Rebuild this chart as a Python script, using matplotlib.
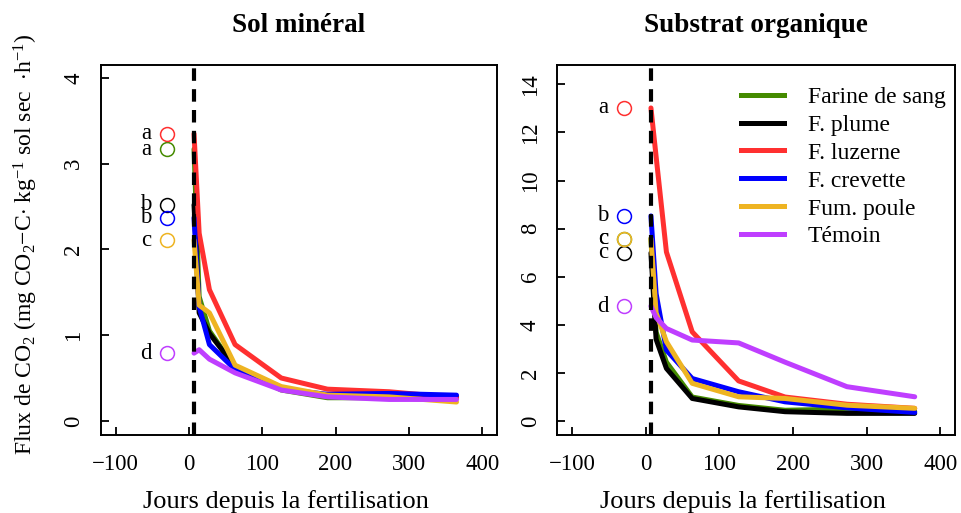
import matplotlib
matplotlib.use("Agg")
import matplotlib.pyplot as plt

plt.rcParams["font.family"] = ["Liberation Serif", "DejaVu Serif"]
plt.rcParams["mathtext.fontset"] = "custom"
plt.rcParams["mathtext.rm"] = "Liberation Serif"
plt.rcParams["mathtext.it"] = "Liberation Serif:italic"

# Sampling days after fertilisation
days = [7, 14, 28, 63, 126, 189, 273, 365]

treatments = ["Farine de sang", "F. plume", "F. luzerne", "F. crevette", "Fum. poule", "Témoin"]
colors = ["#458B00", "#000000", "#FF3030", "#0000FF", "#EEB422", "#BF3EFF"]

# Sol minéral
sol_farine = [3.17, 1.45, 1.05, 0.62, 0.36, 0.27, 0.27, 0.27]
sol_plume = [2.52, 1.26, 1.02, 0.63, 0.37, 0.29, 0.28, 0.28]
sol_luzerne = [3.35, 2.19, 1.53, 0.89, 0.50, 0.37, 0.34, 0.27]
sol_crevette = [2.37, 1.33, 0.89, 0.60, 0.37, 0.31, 0.32, 0.30]
sol_poule = [2.11, 1.35, 1.26, 0.65, 0.40, 0.30, 0.28, 0.22]
sol_temoin = [0.79, 0.83, 0.72, 0.56, 0.36, 0.28, 0.25, 0.25]
sol_letters = ["a", "b", "a", "b", "c", "d"]

# Substrat organique
sub_farine = [7.59, 3.70, 2.45, 1.00, 0.65, 0.45, 0.50, 0.40]
sub_plume = [6.99, 3.40, 2.19, 0.94, 0.59, 0.39, 0.32, 0.32]
sub_luzerne = [13.02, 11.0, 7.03, 3.71, 1.67, 1.00, 0.70, 0.53]
sub_crevette = [8.53, 5.30, 2.95, 1.77, 1.22, 0.80, 0.55, 0.36]
sub_poule = [7.59, 4.50, 3.30, 1.57, 1.01, 0.94, 0.66, 0.53]
sub_temoin = [4.78, 4.30, 3.85, 3.37, 3.25, 2.45, 1.43, 1.01]
sub_letters = ["c", "c", "a", "b", "c", "d"]

sol_series = [sol_farine, sol_plume, sol_luzerne, sol_crevette, sol_poule, sol_temoin]
sub_series = [sub_farine, sub_plume, sub_luzerne, sub_crevette, sub_poule, sub_temoin]

circle_x = -30
fert_day = 7

fig = plt.figure(figsize=(9.61, 5.13), dpi=100)
ax1 = fig.add_axes([0.105, 0.152, 0.412, 0.721])
ax2 = fig.add_axes([0.580, 0.152, 0.414, 0.721])


def draw_panel(ax, series, letters, title, ylim, yticks):
    for vals, col in zip(series, colors):
        ax.plot(days, vals, color=col, lw=3.6, solid_capstyle="round", solid_joinstyle="round")
    for vals, col, let in zip(series, colors, letters):
        ax.plot(circle_x, vals[0], "o", mfc="none", mec=col, ms=10, mew=1.1)
        ax.text(circle_x - 21, vals[0], let, ha="right", va="center", fontsize=16.5)
    ax.axvline(fert_day, color="black", lw=3, ls=(0, (3, 2)))
    ax.set_xlim(-120, 420)
    ax.set_ylim(*ylim)
    ax.set_xticks([-100, 0, 100, 200, 300, 400])
    ax.set_yticks(yticks)
    ax.tick_params(direction="in", length=6, width=1.3, labelsize=16.5)
    ax.tick_params(axis="x", pad=14)
    ax.tick_params(axis="y", pad=12)
    for lab in ax.get_yticklabels():
        lab.set_rotation(90)
        lab.set_va("center")
    for sp in ax.spines.values():
        sp.set_linewidth(1.4)
    ax.set_title(title, fontsize=19.5, fontweight="bold", pad=24)
    ax.set_xlabel("Jours depuis la fertilisation", fontsize=19)
    ax.xaxis.set_label_coords(0.467, -0.148)


draw_panel(ax1, sol_series, sol_letters, "Sol minéral", (-0.165, 4.15), [0, 1, 2, 3, 4])
draw_panel(ax2, sub_series, sub_letters, "Substrat organique", (-0.58, 14.8), list(range(0, 15, 2)))

ax1.set_ylabel("Flux de CO$_2$ (mg CO$_2$$-$C$\\cdot$ kg$^{-1}$ sol sec  $\\cdot$h$^{-1}$)",
               fontsize=17)
ax1.yaxis.set_label_coords(-0.153, 0.515)

handles = [plt.Line2D([], [], color=c, lw=3.6) for c in colors]
ax2.legend(handles, treatments, loc="upper right", frameon=False, fontsize=17,
           handlelength=1.85, handletextpad=1.0, labelspacing=0.27,
           bbox_to_anchor=(1.03, 1.0))

fig.savefig("out.png", dpi=100)
